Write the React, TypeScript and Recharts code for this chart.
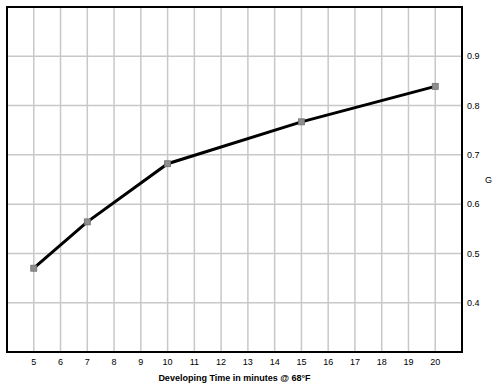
import React from 'react';
import { LineChart, Line, XAxis, YAxis, CartesianGrid, ReferenceArea, Label } from 'recharts';

const devTimes = [5, 7, 10, 15, 20];
const gValues = [0.47, 0.564, 0.682, 0.767, 0.839];
const xTicks = [5, 6, 7, 8, 9, 10, 11, 12, 13, 14, 15, 16, 17, 18, 19, 20];
const yTicks = [0.4, 0.5, 0.6, 0.7, 0.8, 0.9];

const data = devTimes.map((t, i) => ({ t, g: gValues[i] }));

const FONT = '"Liberation Sans", Arial, sans-serif';

const SquareDot = (props: any) => {
  const { cx, cy } = props;
  if (cx == null || cy == null) return null;
  return <rect x={cx - 3} y={cy - 3} width={6} height={6} fill="#8e8e8e" stroke="#707070" strokeWidth={0.8} />;
};

export default function App() {
  return (
    <div style={{ position: 'absolute', left: 0, top: 0, width: 501, height: 384, background: '#fff' }}>
      <LineChart width={501} height={384} data={data} margin={{ top: 7, right: 0, bottom: 0, left: 7 }}>
        <CartesianGrid stroke="#c8c8c8" strokeWidth={1.5} />
        <XAxis
          type="number"
          dataKey="t"
          domain={[4, 21]}
          ticks={xTicks}
          interval={0}
          axisLine={false}
          tickLine={false}
          tickSize={0}
          tickMargin={7}
          height={32}
          tick={{ fill: '#000', fontSize: 9, fontFamily: FONT }}
        >
          <Label
            value="Developing Time in minutes @ 68°F"
            position="insideBottom"
            offset={3}
            style={{ fill: '#000', fontSize: 9, fontWeight: 'bold', fontFamily: FONT }}
          />
        </XAxis>
        <YAxis
          orientation="right"
          type="number"
          domain={[0.3, 1.0]}
          ticks={yTicks}
          interval={0}
          axisLine={false}
          tickLine={false}
          tickSize={0}
          tickMargin={5}
          width={39}
          tickFormatter={(v: number) => v.toFixed(1)}
          tick={{ fill: '#000', fontSize: 9, fontFamily: FONT }}
        >
          <Label
            value="G"
            position="insideRight"
            offset={9}
            style={{ fill: '#000', fontSize: 9, fontFamily: FONT }}
          />
        </YAxis>
        <ReferenceArea x1={4} x2={21} y1={0.3} y2={1.0} fill="none" stroke="#000" strokeWidth={2} ifOverflow="visible" />
        <Line
          type="linear"
          dataKey="g"
          stroke="#000"
          strokeWidth={3}
          dot={<SquareDot />}
          activeDot={false}
          isAnimationActive={false}
        />
      </LineChart>
    </div>
  );
}
